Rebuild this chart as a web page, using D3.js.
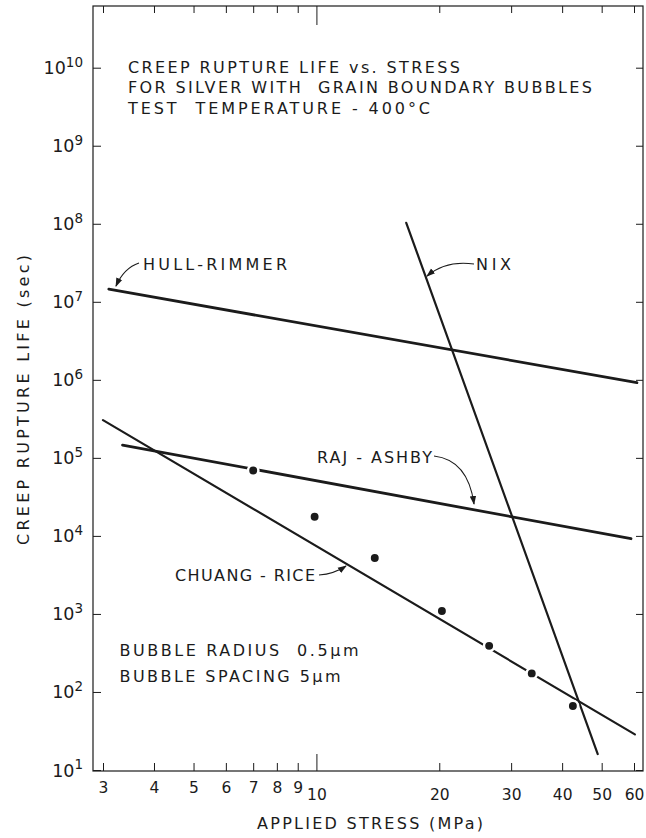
<!DOCTYPE html>
<html>
<head>
<meta charset="utf-8">
<script src="https://cdn.jsdelivr.net/npm/d3@7"></script>
<style>
  body { margin: 0; background: #fff; }
  text { font-family: "DejaVu Sans", "Liberation Sans", sans-serif; fill: #1b1b1b; }
</style>
</head>
<body>
<script>
// tick values
const stressTicks = [3, 4, 5, 6, 7, 8, 9, 10, 20, 30, 40, 50, 60];
const lifeExponents = [1, 2, 3, 4, 5, 6, 7, 8, 9, 10];

// model predictions, [stress MPa, life sec] end points
const hullRimmer = [[3.1, 1.45e7], [61, 9.2e5]];
const nix = [[16.6, 1.03e8], [48.9, 16]];
const rajAshby = [[3.35, 1.46e5], [59, 9.2e3]];
const chuangRice = [[3.0, 3.05e5], [60.3, 28.6]];

// measured rupture lives
const testStress = [7.0, 9.9, 13.9, 20.3, 26.5, 33.7, 42.5];
const testLife = [6.9e4, 1.76e4, 5.2e3, 1.09e3, 390, 173, 66];

const W = 646, H = 838;
const frame = { left: 93, right: 643, top: 6, bottom: 771 };

const svg = d3.select("body").append("svg")
    .attr("width", W)
    .attr("height", H);

const x = d3.scaleLog().domain([3, 60]).range([103, 634]);
const y = d3.scaleLog().domain([10, 1e10]).range([770, 67.7]);
const lifeTicks = lifeExponents.map(e => Math.pow(10, e));

const ink = "#1b1b1b";

// frame
svg.append("rect")
    .attr("x", frame.left).attr("y", frame.top)
    .attr("width", frame.right - frame.left)
    .attr("height", frame.bottom - frame.top)
    .attr("fill", "none").attr("stroke", ink).attr("stroke-width", 1.2);

// bottom axis, ticks pointing up
const gx = svg.append("g")
    .attr("transform", `translate(0,${frame.bottom})`)
    .call(d3.axisBottom(x).tickValues(stressTicks).tickSize(-8).tickFormat(d3.format("d")));
gx.select(".domain").remove();
gx.selectAll(".tick line")
    .attr("y2", d => d === 10 ? -17 : -8)
    .attr("stroke", ink);
gx.selectAll(".tick text")
    .attr("y", d => d < 10 ? 22 : 29)
    .attr("dy", null)
    .attr("font-size", 15.5)
    .attr("font-family", "DejaVu Sans, sans-serif")
    .attr("fill", ink);

// top axis, ticks only
const gt = svg.append("g")
    .attr("transform", `translate(0,${frame.top})`)
    .call(d3.axisTop(x).tickValues(stressTicks).tickSize(-7).tickFormat(""));
gt.select(".domain").remove();
gt.selectAll(".tick line")
    .attr("y2", d => d === 10 ? 19 : 7)
    .attr("stroke", ink);

// left axis with 10^n labels
const gy = svg.append("g")
    .attr("transform", `translate(${frame.left},0)`)
    .call(d3.axisLeft(y).tickValues(lifeTicks).tickSize(-8).tickFormat(""));
gy.select(".domain").remove();
gy.selectAll(".tick line").attr("stroke", ink);

const yLabels = svg.append("g").selectAll("text")
    .data(lifeExponents)
    .join("text")
    .attr("x", 83)
    .attr("y", d => y(Math.pow(10, d)) + 6.5)
    .attr("text-anchor", "end")
    .attr("font-size", 17.5);
yLabels.append("tspan").text("10");
yLabels.append("tspan")
    .attr("dy", -7.5)
    .attr("font-size", 13.5)
    .text(d => d);

// right axis, ticks only
const gr = svg.append("g")
    .attr("transform", `translate(${frame.right},0)`)
    .call(d3.axisRight(y).tickValues(lifeTicks).tickSize(-7).tickFormat(""));
gr.select(".domain").remove();
gr.selectAll(".tick line").attr("stroke", ink);

// axis titles
svg.append("text")
    .attr("x", 370).attr("y", 829)
    .attr("text-anchor", "middle")
    .attr("font-size", 16)
    .attr("textLength", 226)
    .attr("lengthAdjust", "spacing")
    .text("APPLIED STRESS (MPa)");

svg.append("text")
    .attr("transform", "translate(29,400) rotate(-90)")
    .attr("text-anchor", "middle")
    .attr("font-size", 16)
    .attr("textLength", 290)
    .attr("lengthAdjust", "spacing")
    .text("CREEP RUPTURE LIFE (sec)");

// model lines
const line = d3.line().x(d => x(d[0])).y(d => y(d[1]));
const models = [
    { pts: hullRimmer, w: 2.8 },
    { pts: rajAshby, w: 2.8 },
    { pts: chuangRice, w: 2.2 },
    { pts: nix, w: 2.2 }
];
svg.append("g").selectAll("path")
    .data(models)
    .join("path")
    .attr("d", d => line(d.pts))
    .attr("fill", "none")
    .attr("stroke", ink)
    .attr("stroke-width", d => d.w)
    .attr("stroke-linecap", "round");

// test points, white rim leaves a small gap in the lines
svg.append("g").selectAll("circle")
    .data(testStress.map((s, i) => [s, testLife[i]]))
    .join("circle")
    .attr("cx", d => x(d[0]))
    .attr("cy", d => y(d[1]))
    .attr("r", 5.2)
    .attr("fill", ink)
    .attr("stroke", "#fff")
    .attr("stroke-width", 2.5);

// title block
const titleLines = [
    { t: "CREEP RUPTURE LIFE vs. STRESS", w: 332 },
    { t: "FOR SILVER WITH  GRAIN BOUNDARY BUBBLES", w: 464 },
    { t: "TEST  TEMPERATURE - 400°C", w: 302 }
];
svg.append("g").selectAll("text")
    .data(titleLines)
    .join("text")
    .attr("x", 128)
    .attr("y", (d, i) => 73 + i * 20.3)
    .attr("font-size", 16)
    .attr("textLength", d => d.w)
    .attr("lengthAdjust", "spacing")
    .style("white-space", "pre")
    .text(d => d.t);

// curve labels
const labels = [
    { t: "HULL-RIMMER", x: 143, y: 270, w: 144 },
    { t: "NIX", x: 476, y: 270, w: 35 },
    { t: "RAJ - ASHBY", x: 317, y: 463, w: 115 },
    { t: "CHUANG - RICE", x: 175, y: 581, w: 140 },
    { t: "BUBBLE RADIUS  0.5μm", x: 119.5, y: 656, w: 239 },
    { t: "BUBBLE SPACING 5μm", x: 119.5, y: 682, w: 221 }
];
svg.append("g").selectAll("text")
    .data(labels)
    .join("text")
    .attr("x", d => d.x)
    .attr("y", d => d.y)
    .attr("font-size", 16)
    .attr("textLength", d => d.w)
    .attr("lengthAdjust", "spacing")
    .style("white-space", "pre")
    .text(d => d.t);

// little curved pointers from labels to their lines
svg.append("defs").append("marker")
    .attr("id", "head")
    .attr("viewBox", "0 -4 9 8")
    .attr("refX", 8).attr("refY", 0)
    .attr("markerWidth", 9).attr("markerHeight", 8)
    .attr("markerUnits", "userSpaceOnUse")
    .attr("orient", "auto")
    .append("path")
    .attr("d", "M0,-3.2L9,0L0,3.2Z")
    .attr("fill", ink);

const pointers = [
    { from: [139, 263], ctrl: [124, 268], to: [116, 286] },
    { from: [474, 264], ctrl: [446, 260], to: [427, 276] },
    { from: [434, 456], ctrl: [468, 460], to: [474, 504] },
    { from: [319, 575], ctrl: [334, 574], to: [346, 566] }
];
svg.append("g").selectAll("path")
    .data(pointers)
    .join("path")
    .attr("d", d => {
        const p = d3.path();
        p.moveTo(...d.from);
        p.quadraticCurveTo(...d.ctrl, ...d.to);
        return p.toString();
    })
    .attr("fill", "none")
    .attr("stroke", ink)
    .attr("stroke-width", 1.1)
    .attr("marker-end", "url(#head)");
</script>
</body>
</html>
